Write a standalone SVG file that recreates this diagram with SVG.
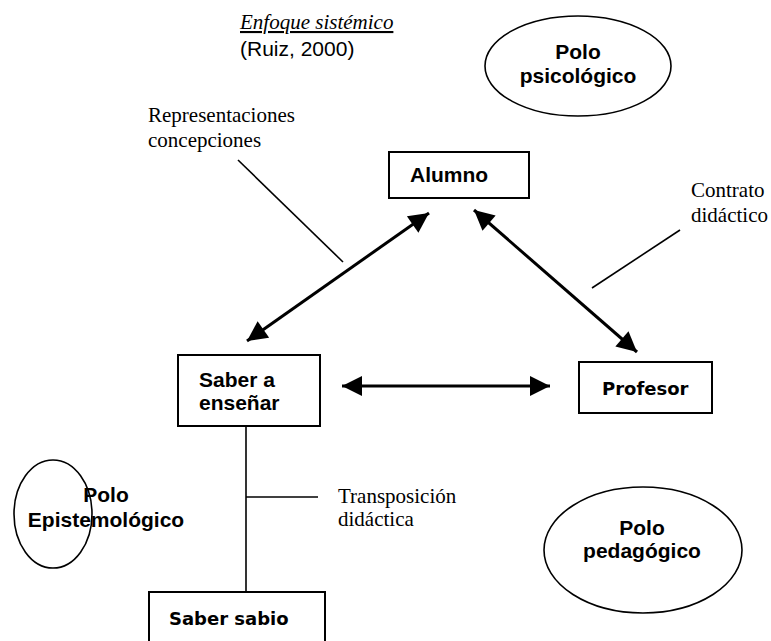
<svg xmlns="http://www.w3.org/2000/svg" width="771" height="641" viewBox="0 0 771 641">
  <style>
    .box { fill: #fff; stroke: #000; stroke-width: 2; }
    .pole { fill: none; stroke: #000; stroke-width: 1.6; }
    .bold { font-family: "Liberation Sans", Arial, sans-serif; font-weight: bold; font-size: 21px; fill: #000; }
    .comic { font-family: "Comic Sans MS", "DejaVu Sans", sans-serif; font-weight: bold; font-size: 18px; fill: #000; }
    .serif { font-family: "Liberation Serif", "Times New Roman", serif; font-size: 21px; fill: #000; }
    .sans { font-family: "Liberation Sans", Arial, sans-serif; font-size: 21px; fill: #000; }
    .arrow { stroke: #000; stroke-width: 3; fill: none; marker-start: url(#head); marker-end: url(#head); }
    .thin { stroke: #000; stroke-width: 1.6; fill: none; }
  </style>
  <defs>
    <marker id="head" viewBox="0 0 10 10" refX="10" refY="5" markerUnits="userSpaceOnUse" markerWidth="22" markerHeight="20" orient="auto-start-reverse">
      <path d="M0,0 L10,5 L0,10 Z" fill="#000"/>
    </marker>
  </defs>
  <rect width="771" height="641" fill="#fff"/>

  <!-- heading -->
  <g id="title">
    <text class="serif" x="240" y="29" font-style="italic" font-size="22" text-decoration="underline">Enfoque sistémico</text>
    <text class="sans" x="240" y="56">(Ruiz, 2000)</text>
  </g>

  <!-- poles -->
  <g id="polo-psicologico">
    <ellipse class="pole" cx="578" cy="66" rx="93" ry="50"/>
    <text class="bold" x="578" y="59" text-anchor="middle">Polo</text>
    <text class="bold" x="578" y="83" text-anchor="middle">psicológico</text>
  </g>
  <g id="polo-epistemologico">
    <ellipse class="pole" cx="53" cy="514" rx="39" ry="54"/>
    <text class="bold" x="106" y="502" text-anchor="middle">Polo</text>
    <text class="bold" x="106" y="527" text-anchor="middle">Epistemológico</text>
  </g>
  <g id="polo-pedagogico">
    <ellipse class="pole" cx="643" cy="550" rx="99" ry="63"/>
    <text class="bold" x="642" y="535" text-anchor="middle">Polo</text>
    <text class="bold" x="642" y="558" text-anchor="middle">pedagógico</text>
  </g>

  <!-- main nodes -->
  <g id="alumno">
    <rect class="box" x="389" y="152" width="140" height="46"/>
    <text class="bold" x="410" y="182">Alumno</text>
  </g>
  <g id="saber-a-ensenar">
    <rect class="box" x="178" y="355" width="142" height="71"/>
    <text class="bold" x="199" y="387">Saber a</text>
    <text class="bold" x="199" y="410">enseñar</text>
  </g>
  <g id="profesor">
    <rect class="box" x="579" y="362" width="133" height="51"/>
    <text class="comic" x="602" y="395">Profesor</text>
  </g>
  <g id="saber-sabio">
    <rect class="box" x="149" y="592" width="176" height="60"/>
    <text class="comic" x="169" y="625">Saber sabio</text>
  </g>

  <!-- connectors and label leaders -->
  <g id="connectors">
    <line class="arrow" x1="247" y1="341" x2="429" y2="213"/>
    <line class="arrow" x1="474" y1="210" x2="637" y2="352"/>
    <line class="arrow" x1="342" y1="386" x2="550" y2="386"/>
    <line class="thin" x1="246" y1="426" x2="246" y2="592"/>
    <line class="thin" x1="246" y1="497" x2="318" y2="497"/>
    <line class="thin" x1="238" y1="160" x2="343" y2="262"/>
    <line class="thin" x1="592" y1="288" x2="680" y2="230"/>
  </g>

  <!-- relation labels -->
  <g id="labels">
    <text class="serif" x="148" y="122">Representaciones</text>
    <text class="serif" x="148" y="147">concepciones</text>
    <text class="serif" x="691" y="197">Contrato</text>
    <text class="serif" x="691" y="222">didáctico</text>
    <text class="serif" x="338" y="503">Transposición</text>
    <text class="serif" x="338" y="526">didáctica</text>
  </g>
</svg>
